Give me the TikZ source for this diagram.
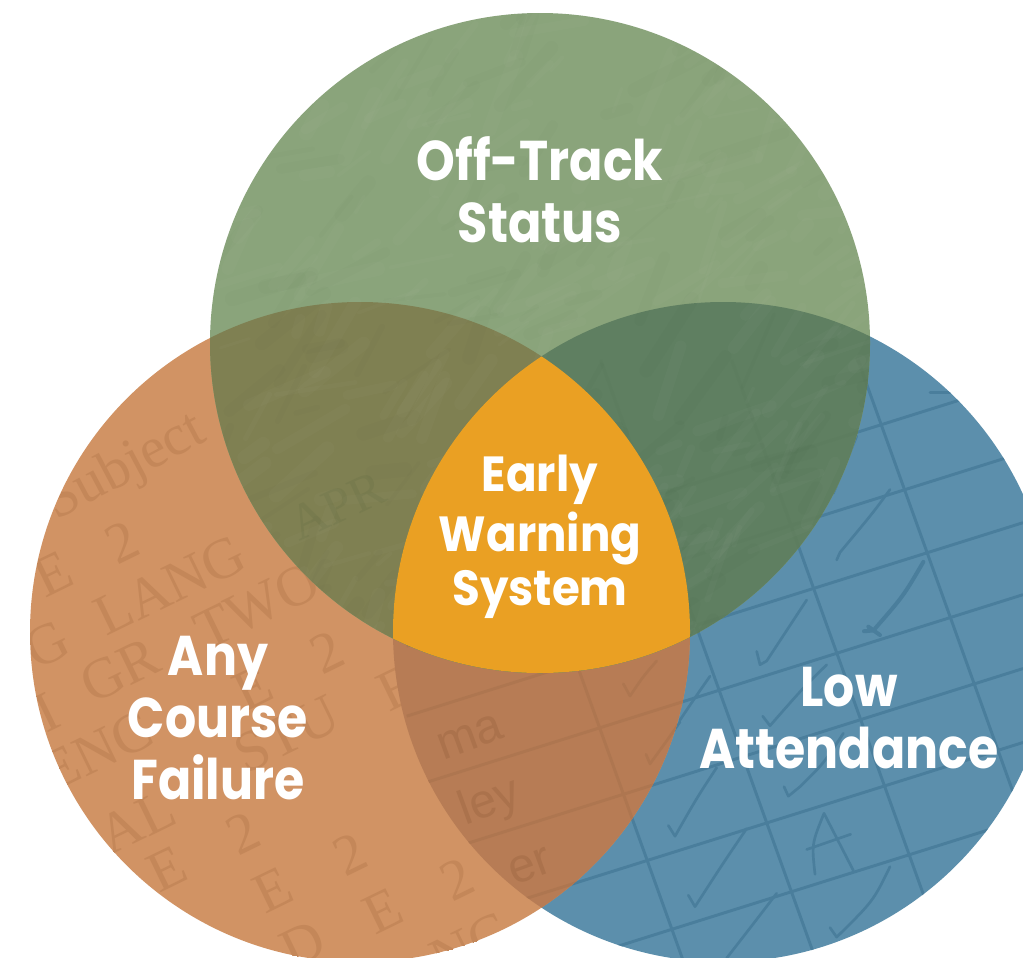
\documentclass[tikz,border=0pt]{standalone}
\usepackage{fontspec}
\setmainfont{Poppins}[BoldFont={* Bold}]
\newfontfamily\typefont{Liberation Serif}
\newfontfamily\hfont{Liberation Sans}
\definecolor{cGreen}{HTML}{8AA47B}
\definecolor{cOrange}{HTML}{D19364}
\definecolor{cBlue}{HTML}{5C8FAC}
\definecolor{cGO}{HTML}{7F8052}
\definecolor{cGB}{HTML}{5F7F61}
\definecolor{cOB}{HTML}{B77C55}
\definecolor{cCenter}{HTML}{EAA023}
\definecolor{cLineB}{HTML}{4A7E9C}
\definecolor{cLineOB}{HTML}{AE7650}
\definecolor{cLineGB}{HTML}{5D7D5F}
\definecolor{cTextO}{HTML}{C48759}
\definecolor{cTextOB}{HTML}{AB724C}
\definecolor{cTextGO}{HTML}{787B4E}
\tikzset{
  lbl/.style={text=white,font=\bfseries\fontsize{#1}{#1}\selectfont,align=center,inner sep=0pt},
  gridline/.style={line width=2.2pt},
  handline/.style={line width=2pt,line cap=round,line join=round},
}
\newcommand{\gridlines}[1]{%
 \begin{scope}[shift={(540,360)},x=0.25pt,y=-0.2857pt]
  \foreach \a/\b in {451/53,641/243,825/427,1015/616,1209/810,1402/1004,1603/1205}
    \draw[gridline,#1] (-400,{\a+110}) -- (1449,\b);
  \foreach \a/\b in {954/1610,575/1231,182/838,-217/439}
    \draw[gridline,#1] (\a,0) -- (\b,1600);
 \end{scope}}
\newcommand{\handmarks}[1]{%
 \begin{scope}[shift={(540,360)},x=0.25pt,y=-0.2857pt]
  \draw[handline,#1] (1050,340) .. controls (1000,400) .. (900,505) -- (890,525);
  \draw[handline,#1,line width=3pt] (1150,530) .. controls (1090,620) .. (1000,710) -- (972,712) (985,700)--(1020,722);
  \draw[handline,#1] (800,630) .. controls (740,710) .. (680,790) -- (660,800) -- (650,765);
  \draw[handline,#1] (860,800) .. controls (790,860) .. (690,960) -- (668,935);
  \draw[handline,#1] (530,1070) .. controls (470,1150) .. (405,1250) -- (385,1222);
  \draw[handline,#1] (910,980) .. controls (850,1060) .. (780,1120) -- (745,1145) -- (732,1120);
  \draw[handline,#1] (620,1230) .. controls (550,1320) .. (465,1435) -- (445,1405);
  \draw[handline,#1] (825,1350) .. controls (815,1270) .. (852,1190) -- (940,1340) (800,1285) -- (932,1245);
  \draw[handline,#1] (1050,1330) .. controls (1000,1420) .. (890,1515) -- (870,1490);
  \draw[handline,#1] (710,1400) .. controls (640,1480) .. (560,1570);
  \draw[handline,#1] (350,790) .. controls (310,830) .. (270,882) -- (250,850);
  \draw[handline,#1] (510,830) .. controls (470,880) .. (420,945);
  \draw[handline,#1] (420,950) .. controls (380,1000) .. (330,1060) -- (318,1035);
  \draw[handline,#1] (1170,85) -- (1230,85);
  \draw[handline,#1] (950,200) -- (880,350);
 \end{scope}}
\begin{document}
\begin{tikzpicture}[x=0.75pt,y=-0.75pt]
\useasboundingbox (0,0) rectangle (1023,957);
\fill[white] (0,0) rectangle (1023,957);
\def\R{330}
\coordinate (cg) at (540,343);
\coordinate (co) at (360,632);
\coordinate (cb) at (723,632);
\begin{scope}
 \clip (0,0) rectangle (1023,957);
 % blue disc
 \fill[cBlue] (cb) circle[radius=\R];
 \begin{scope}
  \clip (cb) circle[radius=\R];
  \gridlines{cLineB}
  \handmarks{cLineB}
 \end{scope}
 % orange disc
 \fill[cOrange] (co) circle[radius=\R];
 \begin{scope}
  \clip (co) circle[radius=\R];
  \foreach \x/\y/\r/\t [count=\i] in {
    126/468/28/Subject,122/542/26/2,53/574/26/E,170/585/26/LANG,257/606/26/TWO,
    47/645/26/G,120/670/26/GR,327/652/26/2,397/688/26/E,253/688/26/E,
    97/751/26/ENC,47/712/26/I,287/734/26/STU,137/822/26/AL,243/833/26/2,
    350/854/26/2,457/879/26/2,167/869/26/E,273/890/26/E,383/911/26/E,
    303/945/26/D,470/945/26/NC}
   \node[name=ft\i,text=cTextO,rotate=\r,font=\typefont\fontsize{43}{43}\selectfont,inner sep=0pt] at (\x,\y) {\t};
 \end{scope}
 % orange + blue
 \begin{scope}
  \clip (co) circle[radius=\R];
  \clip (cb) circle[radius=\R];
  \fill[cOB] (0,0) rectangle (1023,957);
  \gridlines{cLineOB}
  \handmarks{cLineOB}
  \node[name=ftma,text=cTextOB,rotate=20,font=\hfont\fontsize{36}{36}\selectfont,inner sep=0pt] at (470,737) {ma};
  \node[name=ftley,text=cTextOB,rotate=20,font=\hfont\fontsize{36}{36}\selectfont,inner sep=0pt] at (490,803) {ley};
  \node[name=fter,text=cTextOB,rotate=20,font=\hfont\fontsize{36}{36}\selectfont,inner sep=0pt] at (530,866) {er};
 \end{scope}
 % green disc
 \fill[cGreen] (cg) circle[radius=\R];
 \begin{scope}
  \clip (cg) circle[radius=\R];
  \clip (co) circle[radius=\R];
  \fill[cGO] (0,0) rectangle (1023,957);
  \node[name=ftapr,text=cTextGO,rotate=25,font=\typefont\fontsize{38}{38}\selectfont,inner sep=0pt] at (337,506) {APR};
 \end{scope}
 \begin{scope}
  \clip (cg) circle[radius=\R];
  \clip (cb) circle[radius=\R];
  \fill[cGB] (0,0) rectangle (1023,957);
  \gridlines{cLineGB}
 \end{scope}
 % chalkboard texture
 \begin{scope}
  \clip (cg) circle[radius=\R];
  \pgfmathsetseed{4711}
  \foreach \k in {1,...,260}{
   \pgfmathsetmacro\px{210+660*rnd}
   \pgfmathsetmacro\py{13+660*rnd}
   \pgfmathsetmacro\ang{-75+70*rnd}
   \pgfmathsetmacro\len{15+70*rnd}
   \pgfmathsetmacro\wid{2+9*rnd}
   \draw[white,opacity=0.018,line width=\wid pt,line cap=round]
     (\px,\py) -- ++(\ang:\len);
  }
  \foreach \k in {1,...,160}{
   \pgfmathsetmacro\px{210+660*rnd}
   \pgfmathsetmacro\py{13+660*rnd}
   \pgfmathsetmacro\ang{-75+70*rnd}
   \pgfmathsetmacro\len{15+70*rnd}
   \pgfmathsetmacro\wid{2+9*rnd}
   \draw[black,opacity=0.012,line width=\wid pt,line cap=round]
     (\px,\py) -- ++(\ang:\len);
  }
 \end{scope}
 % centre
 \begin{scope}
  \clip (cg) circle[radius=\R];
  \clip (co) circle[radius=\R];
  \fill[cCenter] (cb) circle[radius=\R];
 \end{scope}
\end{scope}
\node[lbl=42,xscale=0.88,transform shape] (offtrack) at (540,190) {Off-Track\\[4.5pt]Status};
\node[lbl=37,xscale=0.915,transform shape] (ews) at (540,537) {Early\\[4pt]Warning\\[4pt]System};
\node[lbl=42,xscale=0.875,transform shape] (acf) at (218,718) {Any\\[4.5pt]Course\\[4.5pt]Failure};
\node[lbl=42,xscale=0.875,transform shape] (low) at (849,718) {Low\\[4.5pt]Attendance};
\end{tikzpicture}
\end{document}
